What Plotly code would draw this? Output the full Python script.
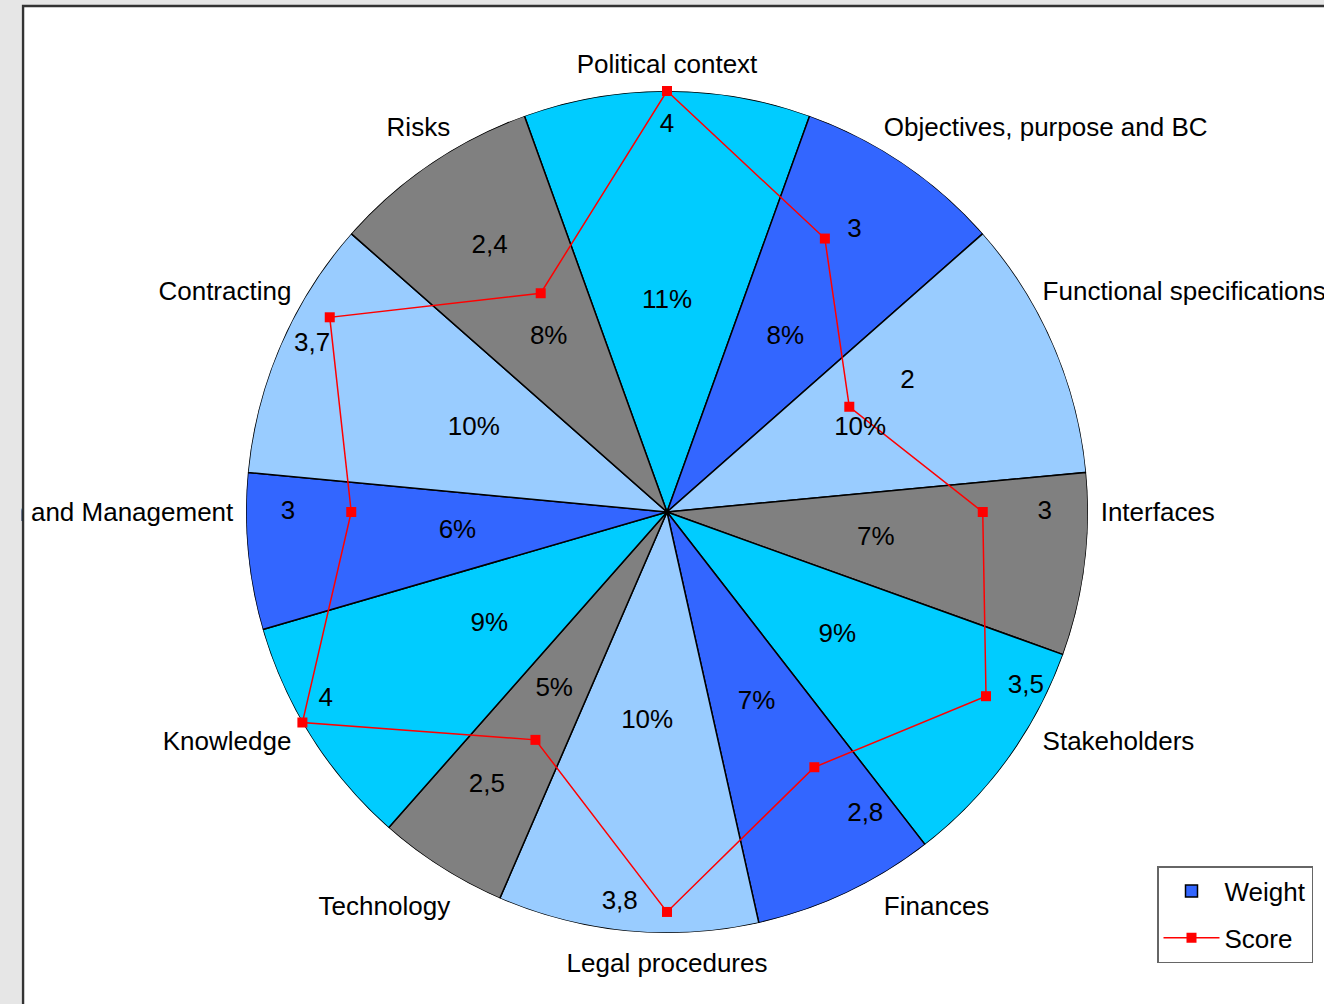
import plotly.graph_objects as go

# ---- data ----
categories = ["Political context", "Objectives, purpose and BC", "Functional specifications",
              "Interfaces", "Stakeholders", "Finances", "Legal procedures", "Technology",
              "Knowledge", "Organisation and Management", "Contracting", "Risks"]
weights = [11, 8, 10, 7, 9, 7, 10, 5, 9, 6, 10, 8]          # percent
scores = [4, 3, 2, 3, 3.5, 2.8, 3.8, 2.5, 4, 3, 3.7, 2.4]

# ---- style ----
wedge_colors = ["#00CCFF", "#3366FF", "#99CCFF", "#808080"]
# label placement offsets (style only): radial and angular nudges for score labels
label_dr = [-0.33, 0.21, 0.60, 0.59, 0.29, 0.64, -0.06, 0.61, -0.30, 0.60, 0.03, 0.63]
label_dth = [0, 3.7, 1.5, 0, -4.1, -3.2, 6.9, 3.4, 1.2, 0, -4.7, -3.8]
FONT = "Liberation Sans, Arial, sans-serif"
FS = 26

n = len(categories)
step = 360.0 / n
cat_angles = [i * step for i in range(n)]

# wedge geometry derived from weights (pie: first wedge centred at top)
widths = [w * 3.6 for w in weights]
start = -widths[0] / 2
centers = []
acc = start
for wd in widths:
    centers.append(acc + wd / 2)
    acc += wd

colors = [wedge_colors[i % 4] for i in range(n)]

def fmt(v):
    s = ("%g" % v)
    return s.replace(".", ",")

fig = go.Figure()

fig.add_trace(go.Barpolar(
    r=[4] * n, theta=centers, width=widths, base=0,
    marker=dict(color=colors, line=dict(color="black", width=1.5)),
    name="Weight", showlegend=False, hoverinfo="skip"))

# legend proxy for weight
fig.add_trace(go.Barpolar(
    r=[0], theta=[0], width=[0.001],
    marker=dict(color="#3366FF", line=dict(color="black", width=1.5)),
    name="Weight", showlegend=True, legendgroup="w", hoverinfo="skip"))

fig.add_trace(go.Scatterpolar(
    r=scores + scores[:1], theta=cat_angles + cat_angles[:1],
    mode="lines+markers", name="Score", legendgroup="s",
    line=dict(color="#FF0000", width=1.5),
    marker=dict(symbol="square", size=10, color="#FF0000")))

# percent labels
fig.add_trace(go.Scatterpolar(
    r=[2] * n, theta=centers, mode="text",
    text=[f"{w}%" for w in weights],
    textfont=dict(family=FONT, size=FS, color="black"),
    showlegend=False, hoverinfo="skip"))

# score labels
fig.add_trace(go.Scatterpolar(
    r=[s + d for s, d in zip(scores, label_dr)],
    theta=[a + d for a, d in zip(cat_angles, label_dth)],
    mode="text", text=[fmt(s) for s in scores],
    textfont=dict(family=FONT, size=FS, color="black"),
    showlegend=False, hoverinfo="skip"))

W, H = 1324, 1004
cx, cy, R = 667, 492, 421

fig.update_layout(
    width=W, height=H,
    margin=dict(l=0, r=0, t=0, b=0),
    paper_bgcolor="#E6E6E6",
    font=dict(family=FONT, size=FS, color="black"),
    polar=dict(
        domain=dict(x=[(cx - R) / W, (cx + R) / W], y=[(cy - R) / H, (cy + R) / H]),
        bgcolor="rgba(0,0,0,0)",
        radialaxis=dict(range=[0, 4], visible=False, showgrid=False),
        angularaxis=dict(
            rotation=90, direction="clockwise", thetaunit="degrees",
            tickmode="array", tickvals=cat_angles, ticktext=categories,
            showgrid=False, showline=False,
            ticks="outside", ticklen=7, tickcolor="rgba(0,0,0,0)",
            tickfont=dict(family=FONT, size=FS, color="black")),
    ),
    legend=dict(
        x=1157 / W, y=(H - 866) / H, xanchor="left", yanchor="top",
        bgcolor="white", bordercolor="#666666", borderwidth=1.5,
        font=dict(family=FONT, size=FS, color="black"),
        itemwidth=56, traceorder="grouped", tracegroupgap=10),
    shapes=[
        dict(type="rect", xref="paper", yref="paper", layer="below",
             x0=23 / W, x1=1.02, y0=-0.02, y1=(H - 6) / H,
             fillcolor="white", line=dict(color="#333333", width=2.5)),
        dict(type="rect", xref="paper", yref="paper", layer="above",
             x0=-0.01, x1=21.5 / W, y0=-0.02, y1=1.02,
             fillcolor="#E6E6E6", line=dict(width=0)),
    ],
)

fig.write_html("out.html", config={"displayModeBar": False},
               post_script="document.body.style.margin='0';document.body.style.overflow='hidden';")
